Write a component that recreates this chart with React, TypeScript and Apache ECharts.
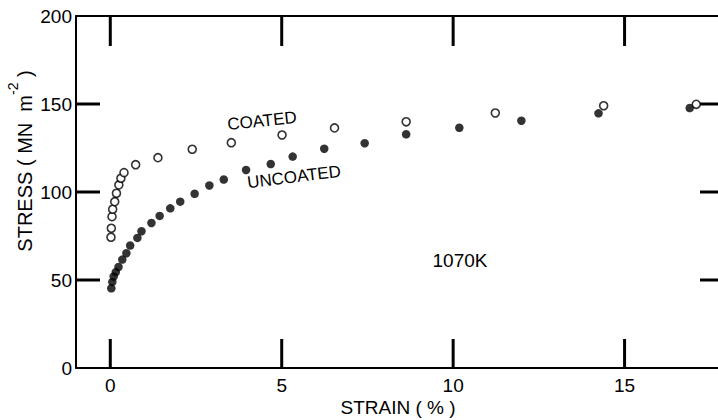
import React, { useEffect, useRef } from "react";
import * as echarts from "echarts";

const strainCoated = [0.02, 0.03, 0.05, 0.07, 0.13, 0.18, 0.25, 0.31, 0.4, 0.74, 1.39, 2.39, 3.53, 5.01, 6.54, 8.63, 11.23, 14.39, 17.09];
const stressCoated = [74.3, 79.4, 86.0, 90.2, 94.5, 99.3, 104.0, 107.8, 111.0, 115.5, 119.5, 124.3, 128.0, 132.4, 136.4, 139.9, 144.9, 149.0, 149.8];

const strainUncoated = [0.03, 0.06, 0.1, 0.16, 0.24, 0.35, 0.47, 0.58, 0.79, 0.91, 1.2, 1.44, 1.75, 2.04, 2.46, 2.89, 3.31, 3.96, 4.68, 5.32, 6.24, 7.42, 8.63, 10.18, 11.99, 14.24, 16.9];
const stressUncoated = [45.3, 48.9, 52.0, 54.5, 57.4, 61.6, 65.2, 69.6, 73.9, 77.7, 82.4, 86.4, 90.7, 94.5, 99.0, 103.7, 107.1, 112.5, 115.9, 120.1, 124.6, 127.7, 132.8, 136.5, 140.5, 144.7, 147.7];

const xTicks = [0, 5, 10, 15];
const yTickLabels = [0, 50, 100, 150, 200];
const yInnerTicks = [50, 100, 150];
const X_MIN = -1;
const X_MAX = 17.9;
const Y_MIN = 0;
const Y_MAX = 200;
const Y_STEP = 50;

const FONT = "'Liberation Sans', Arial, sans-serif";

// tick items: [xValue, yValue, side]  side: 0 bottom, 1 top, 2 left, 3 right
const tickItems = [
  ...xTicks.map((v) => [v, Y_MIN, 0]),
  ...xTicks.map((v) => [v, Y_MAX, 1]),
  ...yInnerTicks.map((v) => [X_MIN, v, 2]),
  ...yInnerTicks.map((v) => [X_MAX, v, 3]),
];

export default function App() {
  const ref = useRef<HTMLDivElement>(null);
  useEffect(() => {
    if (!ref.current) return;
    const chart = echarts.init(ref.current, null, { renderer: "svg" });
    const lineStyle = { color: "#000", width: 2 };
    chart.setOption({
      animation: false,
      grid: { left: 76, top: 16, width: 648, bottom: 52, outerBoundsMode: "none" },
      xAxis: [
        {
          type: "value",
          min: X_MIN,
          max: X_MAX,
          position: "bottom",
          axisLine: { show: true, onZero: false, lineStyle },
          axisTick: { show: false },
          axisLabel: { show: true, customValues: xTicks, margin: 8, color: "#000", fontSize: 19, fontFamily: FONT },
          splitLine: { show: false },
        },
        {
          type: "value",
          min: X_MIN,
          max: X_MAX,
          position: "top",
          axisLine: { show: true, onZero: false, lineStyle },
          axisTick: { show: false },
          axisLabel: { show: false },
          splitLine: { show: false },
        },
      ],
      yAxis: [
        {
          type: "value",
          min: Y_MIN,
          max: Y_MAX,
          interval: Y_STEP,
          position: "left",
          axisLine: { show: true, onZero: false, lineStyle },
          axisTick: { show: false },
          axisLabel: { show: true, customValues: yTickLabels, margin: 4, color: "#000", fontSize: 19, fontFamily: FONT },
          splitLine: { show: false },
        },
        {
          type: "value",
          min: Y_MIN,
          max: Y_MAX,
          interval: Y_STEP,
          position: "right",
          axisLine: { show: true, onZero: false, lineStyle },
          axisTick: { show: false },
          axisLabel: { show: false },
          splitLine: { show: false },
        },
      ],
      series: [
        {
          name: "ticks",
          type: "custom",
          silent: true,
          clip: false,
          z: 5,
          dimensions: ["x", "y", "side"],
          encode: { x: 0, y: 1 },
          data: tickItems,
          renderItem: (params: any, api: any) => {
            const p = api.coord([api.value(0), api.value(1)]);
            const side = api.value(2);
            const w = 3;
            let shape;
            if (side === 0) shape = { x: p[0] - w / 2, y: p[1] - 29, width: w, height: 29 };
            else if (side === 1) shape = { x: p[0] - w / 2, y: p[1], width: w, height: 30 };
            else if (side === 2) shape = { x: p[0], y: p[1] - w / 2, width: 24, height: w };
            else shape = { x: p[0] - 24, y: p[1] - w / 2, width: 24, height: w };
            return { type: "rect", shape, style: { fill: "#000" } };
          },
        },
        {
          name: "UNCOATED",
          type: "scatter",
          symbol: "circle",
          symbolSize: 8.5,
          itemStyle: { color: "#000" },
          data: strainUncoated.map((x, i) => [x, stressUncoated[i]]),
        },
        {
          name: "COATED",
          type: "scatter",
          symbol: "circle",
          symbolSize: 8,
          itemStyle: { color: "#fff", borderColor: "#000", borderWidth: 1.6 },
          data: strainCoated.map((x, i) => [x, stressCoated[i]]),
        },
      ],
      graphic: [
        {
          type: "text",
          x: 262,
          y: 121,
          rotation: (6 * Math.PI) / 180,
          style: { text: "COATED", fill: "#000", font: `17px ${FONT}`, textAlign: "center", textVerticalAlign: "middle" },
        },
        {
          type: "text",
          x: 294,
          y: 177,
          rotation: (7 * Math.PI) / 180,
          style: { text: "UNCOATED", fill: "#000", font: `17px ${FONT}`, textAlign: "center", textVerticalAlign: "middle" },
        },
        {
          type: "text",
          x: 460,
          y: 260,
          style: { text: "1070K", fill: "#000", font: `19px ${FONT}`, textAlign: "center", textVerticalAlign: "middle" },
        },
        {
          type: "text",
          x: 398,
          y: 407,
          style: { text: "STRAIN ( % )", fill: "#000", font: `19px ${FONT}`, textAlign: "center", textVerticalAlign: "middle" },
        },
        {
          type: "text",
          x: 25,
          y: 161,
          rotation: Math.PI / 2,
          style: {
            text: "{a|STRESS ( MN  m}{s|-2}{a| )}",
            fill: "#000",
            textAlign: "center",
            textVerticalAlign: "middle",
            rich: {
              a: { fontSize: 20, fontFamily: FONT, lineHeight: 38, fill: "#000" },
              s: { fontSize: 14, fontFamily: FONT, lineHeight: 16, verticalAlign: "top", fill: "#000" },
            },
          },
        },
      ],
    });
    return () => chart.dispose();
  }, []);
  return <div ref={ref} style={{ position: "fixed", left: 0, top: 0, width: 718, height: 420, background: "#fff" }} />;
}
